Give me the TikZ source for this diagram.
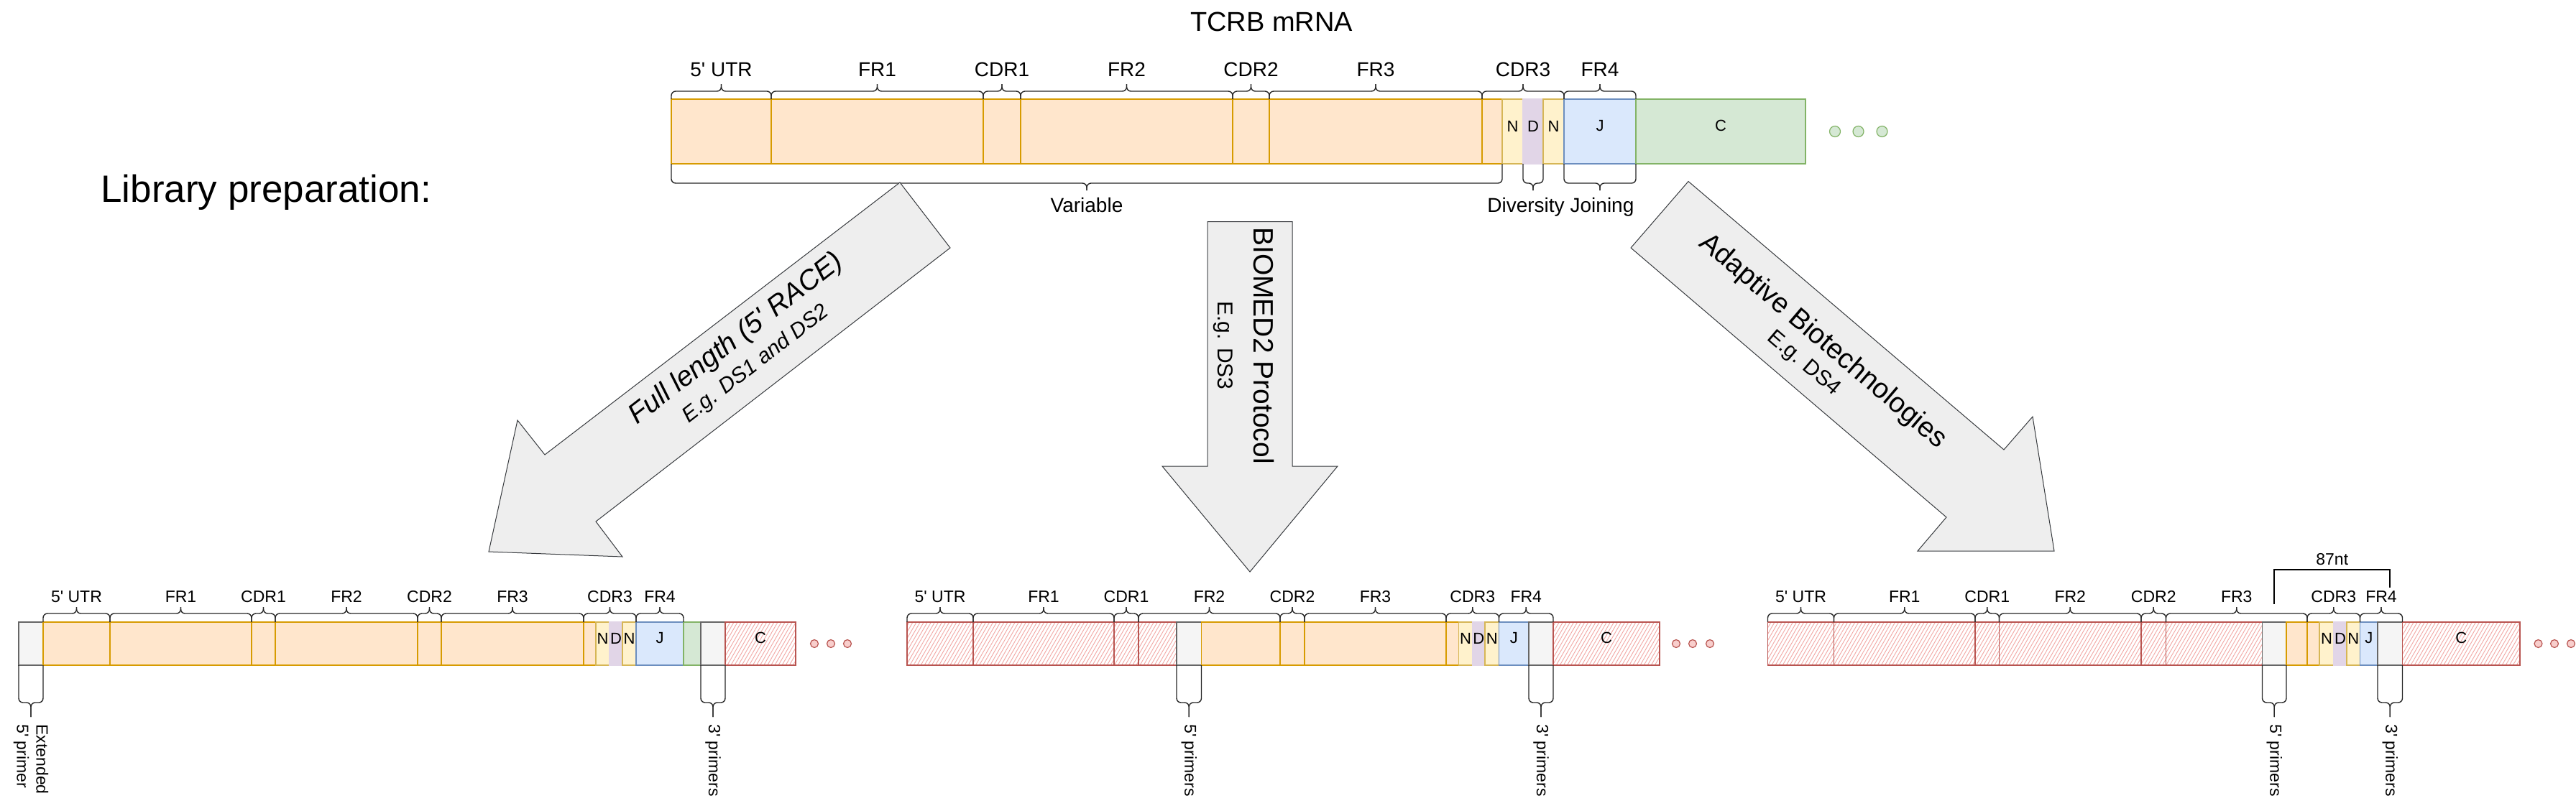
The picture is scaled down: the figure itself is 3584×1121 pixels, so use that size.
\documentclass[tikz,border=0pt]{standalone}
\usepackage{fontspec}
\setmainfont{Liberation Sans}[Ligatures=TeXOff]
\usetikzlibrary{positioning,calc,fit,patterns.meta}

\definecolor{orfill}{HTML}{FFE6CC}
\definecolor{orline}{HTML}{D79B00}
\definecolor{nfill}{HTML}{FFF2CC}
\definecolor{nline}{HTML}{D6B656}
\definecolor{dfill}{HTML}{E1D5E7}
\definecolor{jfill}{HTML}{DAE8FC}
\definecolor{jline}{HTML}{6C8EBF}
\definecolor{cfill}{HTML}{D5E8D4}
\definecolor{cline}{HTML}{82B366}
\definecolor{pfill}{HTML}{F5F5F5}
\definecolor{pline}{HTML}{666666}
\definecolor{rfill}{HTML}{F8CECC}
\definecolor{rline}{HTML}{B85450}
\definecolor{hatch}{HTML}{EA6B66}
\definecolor{arrfill}{HTML}{EEEEEE}
\definecolor{arrline}{HTML}{36393D}

% curly bracket between two anchors, tip coordinate named #5
\newcommand{\segbrace}[5]{%
  \draw[brc] (#1) -- ($(#1)+#3$) -- ($(#1)!.5!(#2)+#3$) -- ($(#1)!.5!(#2)+#3+#4$) coordinate (#5);
  \draw[brc] (#2) -- ($(#2)+#3$) -- ($(#1)!.5!(#2)+#3$) -- ($(#1)!.5!(#2)+#3+#4$);
}

\begin{document}
\begin{tikzpicture}[x=0.5pt, y=-0.5pt,
    seg/.style={draw, line width=0.7pt, inner sep=0pt, outer sep=0pt, font=\fontsize{11}{13}\selectfont},
    orseg/.style={seg, fill=orfill, draw=orline},
    nseg/.style={seg, fill=nfill, draw=nline},
    dseg/.style={seg, fill=dfill, draw=dfill},
    jseg/.style={seg, fill=jfill, draw=jline},
    cseg/.style={seg, fill=cfill, draw=cline},
    pseg/.style={seg, fill=pfill, draw=pline},
    hseg/.style={seg, draw=rline, preaction={fill=white}, pattern={Lines[angle=60,distance=2.2pt,line width=0.45pt]}, pattern color=hatch!60},
    brc/.style={draw=black!85, line width=0.7pt, rounded corners=3pt},
    lbl/.style={font=\fontsize{14}{16}\selectfont, inner sep=0pt, text height=10pt, text depth=0pt},
    slbl/.style={font=\fontsize{11.5}{13}\selectfont, inner sep=0pt, text height=8.3pt, text depth=0pt},
    plbl/.style={font=\fontsize{11.5}{13.5}\selectfont, inner sep=0pt, rotate=-90, align=left},
    tdot/.style={circle, inner sep=0pt, minimum size=7.5pt, fill=cfill, draw=cline, line width=0.6pt},
    rdot/.style={circle, inner sep=0pt, minimum size=5.5pt, fill=rfill, draw=rline, line width=0.6pt},
    blockarr/.style={fill=arrfill, draw=arrline, line width=0.5pt},
    arrtxt/.style={align=center, inner sep=0pt, font=\fontsize{19.5}{21}\selectfont},
    bkt/.style={draw=black, line width=1.2pt}
]
\useasboundingbox (0,0) rectangle (3584,1121);

\node[font=\fontsize{19}{22}\selectfont, anchor=base, inner sep=0pt] (title) at (1769,43) {TCRB mRNA};
\node[font=\fontsize{26.5}{30}\selectfont, anchor=base west, inner sep=0pt] (libprep) at (140,281) {Library preparation:};

% mRNA
\node[orseg, fit={(934,138) (1073,228)}] (tutr) {};
\node[orseg, fit={(1073,138) (1368,228)}] (tfr1) {};
\node[orseg, fit={(1368,138) (1420,228)}] (tcdr1) {};
\node[orseg, fit={(1420,138) (1715,228)}] (tfr2) {};
\node[orseg, fit={(1715,138) (1766,228)}] (tcdr2) {};
\node[orseg, fit={(1766,138) (2062,228)}] (tfr3) {};
\node[orseg, fit={(2062,138) (2090,228)}] (tcdr3) {};
\node[nseg, fit={(2090,138) (2119,228)}] (tn1) {N};
\node[dseg, fit={(2119,138) (2147,228)}] (td) {D};
\node[nseg, fit={(2147,138) (2176,228)}] (tn2) {N};
\node[jseg, fit={(2176,138) (2276,228)}] (tj) {J};
\node[cseg, fit={(2276,138) (2512,228)}] (tc) {C};
\node[tdot] (tdot1) at (2553,183) {};
\node[tdot] (tdot2) at (2585.5,183) {};
\node[tdot] (tdot3) at (2618.5,183) {};

\segbrace{tutr.north west}{tutr.north east}{(0,-11)}{(0,-10)}{tk1}
\segbrace{tfr1.north west}{tfr1.north east}{(0,-11)}{(0,-10)}{tk2}
\segbrace{tcdr1.north west}{tcdr1.north east}{(0,-11)}{(0,-10)}{tk3}
\segbrace{tfr2.north west}{tfr2.north east}{(0,-11)}{(0,-10)}{tk4}
\segbrace{tcdr2.north west}{tcdr2.north east}{(0,-11)}{(0,-10)}{tk5}
\segbrace{tfr3.north west}{tfr3.north east}{(0,-11)}{(0,-10)}{tk6}
\segbrace{tcdr3.north west}{tj.north west}{(0,-11)}{(0,-10)}{tk7}
\segbrace{tj.north west}{tj.north east}{(0,-11)}{(0,-10)}{tk8}
\node[lbl, above=5pt of tk1] (tlutr) {5' UTR};
\node[lbl, above=5pt of tk2] (tlfr1) {FR1};
\node[lbl, above=5pt of tk3] (tlcdr1) {CDR1};
\node[lbl, above=5pt of tk4] (tlfr2) {FR2};
\node[lbl, above=5pt of tk5] (tlcdr2) {CDR2};
\node[lbl, above=5pt of tk6] (tlfr3) {FR3};
\node[lbl, above=5pt of tk7] (tlcdr3) {CDR3};
\node[lbl, above=5pt of tk8] (tlfr4) {FR4};

\segbrace{tutr.south west}{tcdr3.south east}{(0,27)}{(0,10)}{tkv}
\segbrace{td.south west}{td.south east}{(0,27)}{(0,10)}{tkd}
\segbrace{tj.south west}{tj.south east}{(0,27)}{(0,10)}{tkj}
\node[lbl, below=5pt of tkv] (tlvar) {Variable};
\node[lbl, below=5pt of tkd, xshift=-5pt] (tldiv) {Diversity};
\node[lbl, below=5pt of tkj, xshift=1.5pt] (tljoin) {Joining};

% block arrows
\filldraw[blockarr] (1252,254) -- (1322,345) -- (829,726) -- (866,775) -- (680,768) -- (720,585) -- (758,633) -- cycle;
\filldraw[blockarr] (1680,308.6) -- (1798,308.6) -- (1798,649) -- (1861,649) -- (1739,796) -- (1617,649) -- (1680,649) -- cycle;
\filldraw[blockarr] (2349,252.5) -- (2788,626) -- (2828,580) -- (2858,767) -- (2668,767) -- (2708,720) -- (2269,345) -- cycle;
\node[arrtxt, font=\fontsize{19.5}{21}\selectfont\itshape, rotate=37.7] (racetxt) at (1037,488) {Full length (5' RACE)\\{\fontsize{15}{18}\selectfont E.g. DS1 and DS2}};
\node[arrtxt, rotate=-90] (biotxt) at (1730,481) {BIOMED2 Protocol\\[4pt]{\fontsize{15}{18}\selectfont E.g. DS3}};
\node[arrtxt, rotate=-40.4] (adapttxt) at (2524,489) {Adaptive Biotechnologies\\[-2pt]{\fontsize{15}{18}\selectfont E.g. DS4}};

% full length
\node[pseg, fit={(26,866) (60,926)}] (ap5) {};
\node[orseg, fit={(60,866) (153,926)}] (autr) {};
\node[orseg, fit={(153,866) (350,926)}] (afr1) {};
\node[orseg, fit={(350,866) (383,926)}] (acdr1) {};
\node[orseg, fit={(383,866) (581,926)}] (afr2) {};
\node[orseg, fit={(581,866) (614,926)}] (acdr2) {};
\node[orseg, fit={(614,866) (812,926)}] (afr3) {};
\node[orseg, fit={(812,866) (829,926)}] (acdr3) {};
\node[nseg, fit={(829,866) (848,926)}] (an1) {N};
\node[dseg, fit={(848,866) (866,926)}] (ad) {D};
\node[nseg, fit={(866,866) (885,926)}] (an2) {N};
\node[jseg, fit={(885,866) (951,926)}] (aj) {J};
\node[cseg, fit={(951,866) (975,926)}] (ag) {};
\node[pseg, fit={(975,866) (1009,926)}] (ap3) {};
\node[hseg, fit={(1009,866) (1107,926)}] (ac) {C};
\node[rdot] (adot1) at (1133,896) {};
\node[rdot] (adot2) at (1156,896) {};
\node[rdot] (adot3) at (1179,896) {};

\segbrace{autr.north west}{autr.north east}{(0,-12)}{(0,-9)}{ak1}
\segbrace{afr1.north west}{afr1.north east}{(0,-12)}{(0,-9)}{ak2}
\segbrace{acdr1.north west}{acdr1.north east}{(0,-12)}{(0,-9)}{ak3}
\segbrace{afr2.north west}{afr2.north east}{(0,-12)}{(0,-9)}{ak4}
\segbrace{acdr2.north west}{acdr2.north east}{(0,-12)}{(0,-9)}{ak5}
\segbrace{afr3.north west}{afr3.north east}{(0,-12)}{(0,-9)}{ak6}
\segbrace{acdr3.north west}{an2.north east}{(0,-12)}{(0,-9)}{ak7}
\segbrace{aj.north west}{aj.north east}{(0,-12)}{(0,-9)}{ak8}
\node[slbl, above=3pt of ak1] (alutr) {5' UTR};
\node[slbl, above=3pt of ak2] (alfr1) {FR1};
\node[slbl, above=3pt of ak3] (alcdr1) {CDR1};
\node[slbl, above=3pt of ak4] (alfr2) {FR2};
\node[slbl, above=3pt of ak5] (alcdr2) {CDR2};
\node[slbl, above=3pt of ak6] (alfr3) {FR3};
\node[slbl, above=3pt of ak7] (alcdr3) {CDR3};
\node[slbl, above=3pt of ak8] (alfr4) {FR4};
\segbrace{ap5.south west}{ap5.south east}{(0,52)}{(0,20)}{ak5p}
\segbrace{ap3.south west}{ap3.south east}{(0,52)}{(0,20)}{ak3p}
\node[plbl, below=5pt of ak5p, anchor=west] (al5p) {Extended\\5' primer};
\node[plbl, below=5pt of ak3p, anchor=west] (al3p) {3' primers};

% BIOMED2
\node[hseg, fit={(1262,866) (1354,926)}] (butr) {};
\node[hseg, fit={(1354,866) (1550,926)}] (bfr1) {};
\node[hseg, fit={(1550,866) (1584,926)}] (bcdr1) {};
\node[hseg, fit={(1584,866) (1637,926)}] (bfr2h) {};
\node[pseg, fit={(1637,866) (1671.5,926)}] (bp5) {};
\node[orseg, fit={(1671.5,866) (1781,926)}] (bfr2) {};
\node[orseg, fit={(1781,866) (1815,926)}] (bcdr2) {};
\node[orseg, fit={(1815,866) (2012,926)}] (bfr3) {};
\node[orseg, fit={(2012,866) (2029.5,926)}] (bcdr3) {};
\node[nseg, fit={(2029.5,866) (2048.5,926)}] (bn1) {N};
\node[dseg, fit={(2048.5,866) (2066,926)}] (bd) {D};
\node[nseg, fit={(2066,866) (2085.5,926)}] (bn2) {N};
\node[jseg, fit={(2085.5,866) (2127,926)}] (bj) {J};
\node[pseg, fit={(2127,866) (2161,926)}] (bp3) {};
\node[hseg, fit={(2161,866) (2309,926)}] (bc) {C};
\node[rdot] (bdot1) at (2332,896) {};
\node[rdot] (bdot2) at (2355,896) {};
\node[rdot] (bdot3) at (2379,896) {};

\segbrace{butr.north west}{butr.north east}{(0,-12)}{(0,-9)}{bk1}
\segbrace{bfr1.north west}{bfr1.north east}{(0,-12)}{(0,-9)}{bk2}
\segbrace{bcdr1.north west}{bcdr1.north east}{(0,-12)}{(0,-9)}{bk3}
\segbrace{bfr2h.north west}{bfr2.north east}{(0,-12)}{(0,-9)}{bk4}
\segbrace{bcdr2.north west}{bcdr2.north east}{(0,-12)}{(0,-9)}{bk5}
\segbrace{bfr3.north west}{bfr3.north east}{(0,-12)}{(0,-9)}{bk6}
\segbrace{bcdr3.north west}{bn2.north east}{(0,-12)}{(0,-9)}{bk7}
\segbrace{bj.north west}{bp3.north east}{(0,-12)}{(0,-9)}{bk8}
\node[slbl, above=3pt of bk1] (blutr) {5' UTR};
\node[slbl, above=3pt of bk2] (blfr1) {FR1};
\node[slbl, above=3pt of bk3] (blcdr1) {CDR1};
\node[slbl, above=3pt of bk4] (blfr2) {FR2};
\node[slbl, above=3pt of bk5] (blcdr2) {CDR2};
\node[slbl, above=3pt of bk6] (blfr3) {FR3};
\node[slbl, above=3pt of bk7] (blcdr3) {CDR3};
\node[slbl, above=3pt of bk8] (blfr4) {FR4};
\segbrace{bp5.south west}{bp5.south east}{(0,52)}{(0,20)}{bk5p}
\segbrace{bp3.south west}{bp3.south east}{(0,52)}{(0,20)}{bk3p}
\node[plbl, below=5pt of bk5p, anchor=west] (bl5p) {5' primers};
\node[plbl, below=5pt of bk3p, anchor=west] (bl3p) {3' primers};

% Adaptive
\node[hseg, fit={(2459.5,866) (2551.5,926)}] (cutr) {};
\node[hseg, fit={(2551.5,866) (2748,926)}] (cfr1) {};
\node[hseg, fit={(2748,866) (2781.5,926)}] (ccdr1) {};
\node[hseg, fit={(2781.5,866) (2979,926)}] (cfr2) {};
\node[hseg, fit={(2979,866) (3013.5,926)}] (ccdr2) {};
\node[hseg, fit={(3013.5,866) (3147.5,926)}] (cfr3h) {};
\node[pseg, fit={(3147.5,866) (3181,926)}] (cp5) {};
\node[orseg, fit={(3181,866) (3210,926)}] (cfr3) {};
\node[orseg, fit={(3210,866) (3227,926)}] (ccdr3) {};
\node[nseg, fit={(3227,866) (3247,926)}] (cn1) {N};
\node[dseg, fit={(3247,866) (3265,926)}] (cd) {D};
\node[nseg, fit={(3265,866) (3283.5,926)}] (cn2) {N};
\node[jseg, fit={(3283.5,866) (3308,926)}] (cj) {J};
\node[pseg, fit={(3308,866) (3342.5,926)}] (cp3) {};
\node[hseg, fit={(3342.5,866) (3506,926)}] (cc) {C};
\node[rdot] (cdot1) at (3531.5,896) {};
\node[rdot] (cdot2) at (3554,896) {};
\node[rdot] (cdot3) at (3577,896) {};

\segbrace{cutr.north west}{cutr.north east}{(0,-12)}{(0,-9)}{ck1}
\segbrace{cfr1.north west}{cfr1.north east}{(0,-12)}{(0,-9)}{ck2}
\segbrace{ccdr1.north west}{ccdr1.north east}{(0,-12)}{(0,-9)}{ck3}
\segbrace{cfr2.north west}{cfr2.north east}{(0,-12)}{(0,-9)}{ck4}
\segbrace{ccdr2.north west}{ccdr2.north east}{(0,-12)}{(0,-9)}{ck5}
\segbrace{cfr3h.north west}{cfr3.north east}{(0,-12)}{(0,-9)}{ck6}
\segbrace{ccdr3.north west}{cn2.north east}{(0,-12)}{(0,-9)}{ck7}
\segbrace{cj.north west}{cp3.north east}{(0,-12)}{(0,-9)}{ck8}
\node[slbl, above=3pt of ck1] (clutr) {5' UTR};
\node[slbl, above=3pt of ck2] (clfr1) {FR1};
\node[slbl, above=3pt of ck3] (clcdr1) {CDR1};
\node[slbl, above=3pt of ck4] (clfr2) {FR2};
\node[slbl, above=3pt of ck5] (clcdr2) {CDR2};
\node[slbl, above=3pt of ck6] (clfr3) {FR3};
\node[slbl, above=3pt of ck7] (clcdr3) {CDR3};
\node[slbl, above=3pt of ck8] (clfr4) {FR4};
\segbrace{cp5.south west}{cp5.south east}{(0,52)}{(0,20)}{ck5p}
\segbrace{cp3.south west}{cp3.south east}{(0,52)}{(0,20)}{ck3p}
\node[plbl, below=5pt of ck5p, anchor=west] (cl5p) {5' primers};
\node[plbl, below=5pt of ck3p, anchor=west] (cl3p) {3' primers};

\draw[bkt] ($(cp5.north)+(0,-25)$) |- coordinate[pos=.75] (ntk) ($(cp3.north)+(0,-73)$) -- ($(cp3.north)+(0,-48)$);
\node[slbl, above=3pt of ntk] (nt) {87nt};
\end{tikzpicture}
\end{document}
